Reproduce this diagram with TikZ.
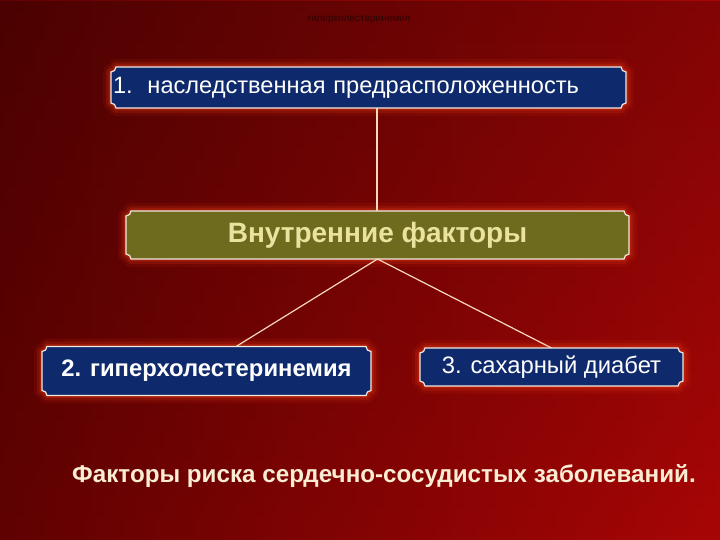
\documentclass[tikz,border=0pt]{standalone}
\usepackage{fontspec}
\setmainfont{Liberation Sans}
\usetikzlibrary{calc,backgrounds,fadings}
\definecolor{navy}{HTML}{0F2A6C}
\definecolor{olive}{HTML}{6E6B1F}
\definecolor{pale}{HTML}{EAE3A0}
\definecolor{rim}{HTML}{F4E8E0}
\definecolor{conncol}{HTML}{F7D7C0}
\definecolor{cream}{HTML}{FBECD4}
\definecolor{glowcol}{HTML}{E33A14}
\definecolor{bgl}{HTML}{600202}
\definecolor{bgr}{HTML}{A80606}
\definecolor{toptext}{HTML}{2A0404}
\newcommand\cpath[1]{($(#1.south west)+(5pt,0)$) -- ($(#1.south east)+(-5pt,0)$) arc[start angle=180,end angle=90,radius=5pt] -- ($(#1.north east)+(0,-5pt)$) arc[start angle=270,end angle=180,radius=5pt] -- ($(#1.north west)+(5pt,0)$) arc[start angle=0,end angle=-90,radius=5pt] -- ($(#1.south west)+(0,5pt)$) arc[start angle=90,end angle=0,radius=5pt] -- cycle}
\newcommand\glowbox[2]{%
  \draw[glowcol, opacity=0.10, line width=16pt, line join=round] \cpath{#1};
  \draw[glowcol, opacity=0.18, line width=10pt, line join=round] \cpath{#1};
  \draw[glowcol, opacity=0.30, line width=5pt, line join=round] \cpath{#1};
  \filldraw[fill=#2, draw=rim, line width=1.2pt] \cpath{#1};}
\tikzset{
  boxnode/.style={outer sep=0pt, inner sep=0pt, draw=none},
  conn/.style={draw=conncol, line width=1.2pt},
}
\begin{document}
\begin{tikzpicture}[x=1pt,y=1pt]
\useasboundingbox (0,0) rectangle (720,540);
% nodes (text)
\node[boxnode, minimum height=41pt, text width=515pt, align=left, text=white,
      font=\fontsize{23.6}{27}\selectfont] (b1) at (368.5,452.5)
      {\hspace{2pt}\makebox[34.5pt][l]{1.}наследственная предрасположенность};
\node[boxnode, minimum width=503pt, minimum height=48pt, text=pale,
      font=\bfseries\fontsize{28}{32}\selectfont] (c) at (377.5,305) {Внутренние факторы};
\node[boxnode, minimum width=329pt, minimum height=49pt, text=white,
      font=\bfseries\fontsize{23.8}{27}\selectfont] (b2) at (206.5,169) {2. гиперхолестеринемия};
\node[boxnode, minimum width=263pt, minimum height=38pt, text=white,
      font=\fontsize{23.8}{27}\selectfont] (b3) at (551.5,173) {3. сахарный диабет};
\node[text=cream, font=\bfseries\fontsize{24.2}{28}\selectfont] (cap) at (384,64)
      {Факторы риска сердечно-сосудистых заболеваний.};
\node[text=toptext, font=\fontsize{10}{12}\selectfont] (top) at (359,520)
      {гиперхолестеринемия};
\begin{scope}[on background layer]
  \shade[left color=bgl, right color=bgr] (0,0) rectangle (720,540);
  \fill[black, opacity=0.22, path fading=south] (0,0) rectangle (720,540);
  \glowbox{b1}{navy}
  \glowbox{c}{olive}
  \glowbox{b2}{navy}
  \glowbox{b3}{navy}
  \draw[conn] (c.north -| 377,0) -- (b1.south -| 377,0);
  \draw[conn] (c.south) -- ($(b2.north west)!0.59!(b2.north east)$);
  \draw[conn] (c.south) -- (b3.north);
\end{scope}
\end{tikzpicture}
\end{document}
